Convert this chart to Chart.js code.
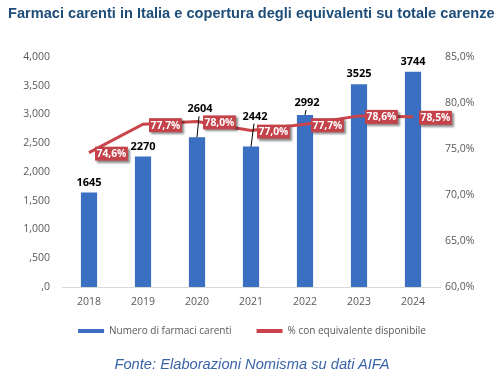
<!DOCTYPE html>
<html>
<head>
<meta charset="utf-8">
<script src="https://cdn.jsdelivr.net/npm/chart.js@4.4.1/dist/chart.umd.min.js"></script>
<style>
  html, body { margin: 0; padding: 0; background: #ffffff; }
  #wrap { position: relative; width: 504px; height: 382px; overflow: hidden; }
  #title { position: absolute; left: 8px; top: 5px; font: bold 14.6px "Liberation Sans", Arial, sans-serif; color: #1F4E79; white-space: nowrap; }
  #source { position: absolute; left: 0; width: 504px; top: 356px; text-align: center; font: italic 14.7px "Liberation Sans", Arial, sans-serif; color: #3B64A8; line-height: 16px; }
  canvas { position: absolute; left: 0; top: 0; }
</style>
</head>
<body>
<div id="wrap">
  <canvas id="c" width="504" height="382"></canvas>
  <div id="title">Farmaci carenti in Italia e copertura degli equivalenti su totale carenze</div>
  <div id="source">Fonte: Elaborazioni Nomisma su dati AIFA</div>
</div>
<script>
const years = ['2018', '2019', '2020', '2021', '2022', '2023', '2024'];
const shortages = [1645, 2270, 2604, 2442, 2992, 3525, 3744];
const equivalentPct = [74.6, 77.7, 78.0, 77.0, 77.7, 78.6, 78.5];
const seriesNames = ['Numero di farmaci carenti', '% con equivalente disponibile'];

const fmtCount = v => {
  if (v >= 1000) {
    const th = Math.floor(v / 1000), rest = v % 1000;
    return th + ',' + String(rest).padStart(3, '0');
  }
  return ',' + v;
};
const fmtPct = v => v.toFixed(1).replace('.', ',') + '%';

// let the x tick labels extend below their (compact) axis box without being clipped
const unclipXLabels = {
  id: 'unclipXLabels',
  afterLayout(chart) {
    const x = chart.scales.x;
    x.bottom = x.top + 30;
  }
};

const labelPlugin = {
  id: 'valueLabels',
  afterDatasetsDraw(chart, args, opts) {
    const ctx = chart.ctx;
    const barMeta = chart.getDatasetMeta(0);
    const lineMeta = chart.getDatasetMeta(1);
    ctx.save();
    ctx.font = 'bold 11px "Open Sans"';
    ctx.fillStyle = '#000000';
    ctx.textAlign = 'center';
    ctx.textBaseline = 'middle';
    barMeta.data.forEach((el, i) => {
      const lift = opts.barLift[i], dx = opts.barShift[i];
      const cx = el.x + dx, cy = el.y - 10 - lift;
      if (lift > 0) {
        ctx.beginPath();
        ctx.moveTo(el.x, el.y);
        ctx.lineTo(cx - 1, cy + 7);
        ctx.strokeStyle = '#000000';
        ctx.lineWidth = 1;
        ctx.stroke();
      }
      ctx.fillText(String(shortages[i]), cx, cy);
    });
    ctx.font = 'bold 10.3px "Open Sans"';
    ctx.textAlign = 'left';
    lineMeta.data.forEach((el, i) => {
      const txt = fmtPct(equivalentPct[i]);
      const w = ctx.measureText(txt).width + 3;
      const h = 14;
      const x = el.x + 6, y = el.y + 1 - h / 2;
      ctx.save();
      ctx.shadowColor = 'rgba(0,0,0,0.45)';
      ctx.shadowOffsetX = 2;
      ctx.shadowOffsetY = 2;
      ctx.shadowBlur = 2;
      ctx.fillStyle = '#C4424A';
      ctx.fillRect(x, y, w, h);
      ctx.restore();
      ctx.fillStyle = '#ffffff';
      ctx.fillText(txt, x + 1.5, el.y + 1.5);
    });
    ctx.restore();
  }
};

const tickFont = { family: 'Open Sans', size: 10.5 };
const tickColor = '#595959';

new Chart(document.getElementById('c'), {
  type: 'bar',
  data: {
    labels: years,
    datasets: [
      {
        type: 'bar',
        label: seriesNames[0],
        data: shortages,
        backgroundColor: '#3A6FC1',
        yAxisID: 'y',
        order: 1,
        barPercentage: 0.6,
        categoryPercentage: 0.5
      },
      {
        type: 'line',
        label: seriesNames[1],
        data: equivalentPct,
        borderColor: '#C9454B',
        backgroundColor: '#C9454B',
        borderWidth: 3,
        pointRadius: 0,
        tension: 0,
        yAxisID: 'y1',
        order: 0
      }
    ]
  },
  options: {
    responsive: false,
    animation: false,
    layout: { padding: { top: 57, bottom: 36, left: 0, right: 0 } },
    plugins: {
      title: { display: false },
      tooltip: { enabled: false },
      legend: {
        position: 'bottom',
        labels: {
          boxWidth: 26,
          boxHeight: 4,
          padding: 25,
          color: '#595959',
          font: { family: 'Open Sans', size: 10 },
          sort: (a, b) => a.datasetIndex - b.datasetIndex,
          generateLabels(chart) {
            const items = Chart.defaults.plugins.legend.labels.generateLabels(chart);
            items.forEach(it => { it.lineWidth = 0; });
            return items;
          }
        }
      },
      valueLabels: {
        barLift: [0, 0, 18, 20, 2, 0, 0],
        barShift: [0, 0, 3, 4, 2, 0, 0]
      }
    },
    scales: {
      x: {
        grid: { display: false, drawTicks: false },
        border: { display: true, color: '#D9D9D9', width: 1 },
        ticks: { color: tickColor, font: tickFont, padding: 9 },
        afterFit: s => { s.height = 14; }
      },
      y: {
        position: 'left',
        min: 0, max: 4000,
        grid: { display: false, drawTicks: false },
        border: { display: false },
        ticks: { stepSize: 500, color: tickColor, font: tickFont, padding: 12, callback: v => fmtCount(v) },
        afterFit: s => { s.width = 62; }
      },
      y1: {
        position: 'right',
        min: 60, max: 85,
        grid: { display: false, drawTicks: false },
        border: { display: false },
        ticks: { stepSize: 5, color: tickColor, font: tickFont, padding: 5, callback: v => fmtPct(v) },
        afterFit: s => { s.width = 64; }
      }
    }
  },
  plugins: [labelPlugin, unclipXLabels]
});
</script>
</body>
</html>
